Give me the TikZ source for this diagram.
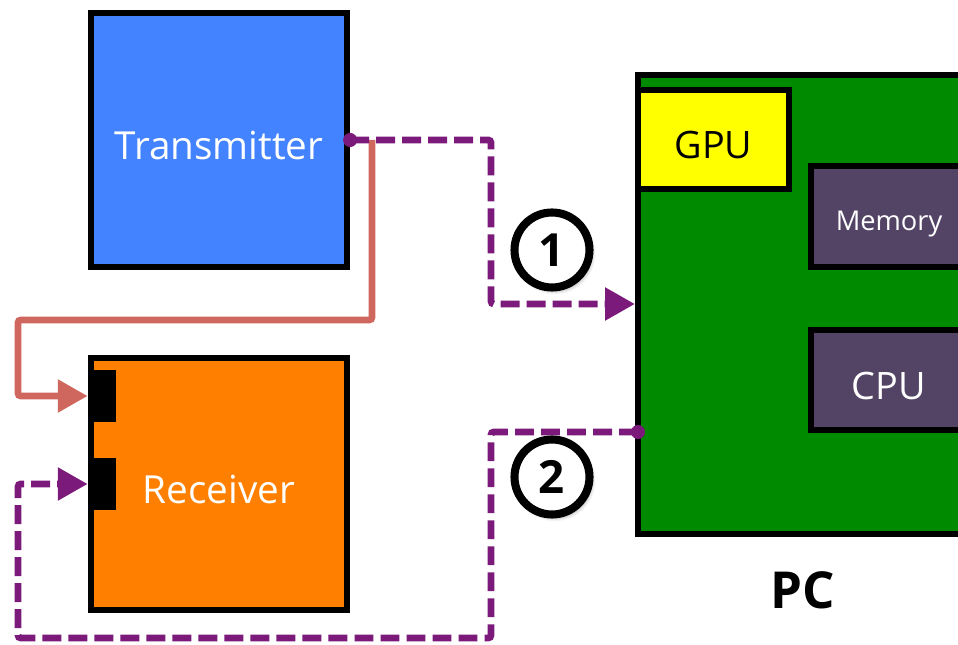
\documentclass[tikz,border=0pt]{standalone}
\usepackage{fontspec}
\setmainfont{Open Sans}
\usepackage{xcolor}
\usetikzlibrary{positioning,arrows.meta,calc,shadows,shadows.blur}

\definecolor{txblue}{HTML}{4383FF}
\definecolor{rxorange}{HTML}{FF7F00}
\definecolor{pcgreen}{HTML}{008A00}
\definecolor{chipgray}{HTML}{534466}
\definecolor{gpuyellow}{HTML}{FFFF00}
\definecolor{linkpurple}{HTML}{7B1A7A}
\definecolor{linksalmon}{HTML}{D0675E}

\tikzset{
  unitbox/.style={draw=black, line width=3.6pt, inner sep=0pt, text=white,
    font=\fontsize{22}{26}\selectfont, text height=22pt, text depth=0pt},
  chipbox/.style={unitbox, font=\fontsize{21.5}{26}\selectfont},
  portbox/.style={fill=black, inner sep=0pt, minimum width=0.56cm, minimum height=1.04cm},
  badge/.style={circle, draw=black, fill=white, line width=4.6pt, minimum size=1.5cm,
    inner sep=0pt, font=\bfseries\fontsize{26}{30}\selectfont,
    blur shadow={shadow blur steps=6, shadow opacity=35, shadow xshift=1.5pt, shadow yshift=-2pt}},
  datalink/.style={linkpurple, line width=3.8pt, dash pattern=on 10.8pt off 4pt, rounded corners=1.5pt},
  trigger/.style={linksalmon, line width=3.8pt, rounded corners=1.5pt},
  bigtip/.style={-{Triangle[length=17pt, width=18pt]}}
}

\begin{document}
\begin{tikzpicture}[x=0.02cm, y=-0.02cm]
  \useasboundingbox (0,0) rectangle (958,645);
  \clip (0,0) rectangle (958,645);

  % Draw transmitter and receiver
  \node[unitbox, fill=txblue, minimum width=5.12cm, minimum height=5.08cm] (tx) at (219,140) {Transmitter};
  \node[unitbox, fill=rxorange, minimum width=5.12cm, minimum height=5.04cm] (rx) at (219,484) {Receiver};
  \node[portbox] (rxin) at (102,396) {};
  \node[portbox] (rxout) at (102,484) {};

  % Draw the PC and its parts
  \node[unitbox, fill=pcgreen, minimum width=6.6cm, minimum height=9.18cm] (pc) at (803,304.5) {};
  \node[chipbox, fill=gpuyellow, text=black, minimum width=3.02cm, minimum height=1.98cm] (gpu) at (713.5,139.5) {GPU};
  \node[chipbox, fill=chipgray, font=\fontsize{15.5}{18}\selectfont, text height=16pt,
    minimum width=3.12cm, minimum height=2.02cm] (mem) at (889,216.5) {Memory};
  \node[chipbox, fill=chipgray, minimum width=3.12cm, minimum height=2cm] (cpu) at (889,380) {CPU};
  \node[font=\bfseries\fontsize{29}{34}\selectfont] (pclbl) at (803,590) {PC};

  % Bend points of the links
  \coordinate (split) at (372,140);
  \coordinate (loopA) at (18,320);
  \coordinate (bendA) at (491,304);
  \coordinate (pcout) at (638,432);
  \coordinate (bendB) at (491,638);
  \coordinate (loopB) at (18,638);

  % Trigger from transmitter to receiver
  \draw[trigger, bigtip] (split) |- (loopA) |- (rxin.west);

  % Link 1: transmitter to PC
  \draw[datalink, bigtip] (tx.east) -| (bendA) -- (bendA -| pc.west);
  \fill[linkpurple] (tx.east) circle (4pt);

  % Link 2: PC to receiver
  \draw[datalink, bigtip] (pcout) -| (bendB) -- (loopB) |- (rxout.west);
  \fill[linkpurple] (pcout) circle (4pt);

  % Step numbers
  \node[badge] (stepA) at (552,250) {1};
  \node[badge] (stepB) at (552,477) {2};
\end{tikzpicture}
\end{document}
